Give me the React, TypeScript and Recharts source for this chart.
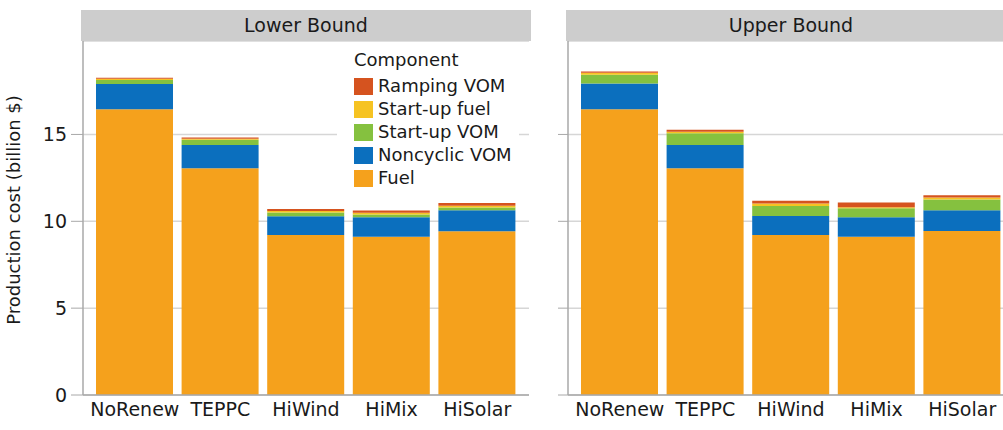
import { BarChart, Bar, XAxis, YAxis, CartesianGrid } from "recharts";

const FONT = '"DejaVu Sans", "Liberation Sans", sans-serif';

// cenários (eixo x)
const scenarios = ["NoRenew", "TEPPC", "HiWind", "HiMix", "HiSolar"];

// Lower Bound, billion $
const fuelLower = [16.45, 13.05, 9.21, 9.11, 9.42];
const noncyclicLower = [1.46, 1.34, 1.08, 1.13, 1.21];
const startupVomLower = [0.22, 0.3, 0.22, 0.15, 0.17];
const startupFuelLower = [0.08, 0.06, 0.08, 0.1, 0.1];
const rampingLower = [0.06, 0.07, 0.12, 0.13, 0.15];

// Upper Bound, billion $
const fuelUpper = [16.45, 13.05, 9.21, 9.11, 9.44];
const noncyclicUpper = [1.48, 1.34, 1.09, 1.12, 1.19];
const startupVomUpper = [0.5, 0.68, 0.58, 0.52, 0.62];
const startupFuelUpper = [0.12, 0.08, 0.15, 0.06, 0.12];
const rampingUpper = [0.08, 0.12, 0.15, 0.27, 0.13];

const yTicks = [0, 5, 10, 15];

// stacking order, bottom to top
const components = [
  { key: "fuel", label: "Fuel", color: "#f5a11c" },
  { key: "noncyclic", label: "Noncyclic VOM", color: "#0b6fbe" },
  { key: "startupVom", label: "Start-up VOM", color: "#85c13f" },
  { key: "startupFuel", label: "Start-up fuel", color: "#f6c322" },
  { key: "ramping", label: "Ramping VOM", color: "#d5531f" },
];

function buildRows(
  fuel: number[],
  noncyclic: number[],
  startupVom: number[],
  startupFuel: number[],
  ramping: number[]
) {
  return scenarios.map((s, i) => ({
    scenario: s,
    fuel: fuel[i],
    noncyclic: noncyclic[i],
    startupVom: startupVom[i],
    startupFuel: startupFuel[i],
    ramping: ramping[i],
  }));
}

const lowerRows = buildRows(fuelLower, noncyclicLower, startupVomLower, startupFuelLower, rampingLower);
const upperRows = buildRows(fuelUpper, noncyclicUpper, startupVomUpper, startupFuelUpper, rampingUpper);

const PLOT_W = 446;
const PLOT_TOP = 41;
const BORDER = "#a8a8a8";

function Panel({
  title,
  rows,
  plotLeft,
  withLabels,
}: {
  title: string;
  rows: any[];
  plotLeft: number;
  withLabels: boolean;
}) {
  const axisW = withLabels ? 83 : 13;
  return (
    <>
      <div
        style={{
          position: "absolute",
          left: plotLeft - 2,
          top: 10,
          width: PLOT_W + 4,
          height: PLOT_TOP - 10,
          background: "#cdcdcd",
          color: "#1a1a1a",
          fontSize: 19,
          lineHeight: `${PLOT_TOP - 10}px`,
          textAlign: "center",
        }}
      >
        {title}
      </div>
      <div style={{ position: "absolute", left: plotLeft - axisW, top: PLOT_TOP }}>
        <BarChart
          width={axisW + PLOT_W + 2}
          height={389}
          data={rows}
          margin={{ top: 0, right: 2, left: 0, bottom: 0 }}
          barSize={77}
        >
          <CartesianGrid vertical={false} stroke="#d6d6d6" strokeWidth={1.5} />
          <XAxis
            dataKey="scenario"
            interval={0}
            padding={{ left: 9, right: 9 }}
            tickLine={false}
            tickSize={0}
            tickMargin={8}
            height={35}
            axisLine={{ stroke: BORDER, strokeWidth: 1.5 }}
            tick={{ fill: "#1a1a1a", fontSize: 19, fontFamily: FONT }}
          />
          <YAxis
            domain={[0, 20.38]}
            ticks={yTicks}
            width={axisW}
            tickSize={withLabels ? 12 : 10}
            tickMargin={4}
            axisLine={{ stroke: BORDER, strokeWidth: 1.5 }}
            tickLine={{ stroke: BORDER }}
            tick={{ fill: "#1a1a1a", fontSize: 19, fontFamily: FONT }}
            tickFormatter={(v) => (withLabels ? String(v) : "")}
            label={
              withLabels
                ? {
                    value: "Production cost (billion $)",
                    angle: -90,
                    position: "insideLeft",
                    offset: 14,
                    dy: -8,
                    style: { textAnchor: "middle", fill: "#1a1a1a", fontSize: 18, fontFamily: FONT },
                  }
                : undefined
            }
          />
          <YAxis
            yAxisId="r"
            orientation="right"
            width={0}
            tick={false}
            tickLine={false}
            axisLine={{ stroke: BORDER, strokeWidth: 1.5 }}
          />
          {components.map((c) => (
            <Bar
              key={c.key}
              dataKey={c.key}
              stackId="a"
              fill={c.color}
              isAnimationActive={false}
            />
          ))}
        </BarChart>
      </div>
    </>
  );
}

function LegendBox() {
  const items = [...components].reverse();
  return (
    <div
      style={{
        position: "absolute",
        left: 337,
        top: 47,
        width: 182,
        height: 148,
        background: "#fff",
        color: "#1a1a1a",
        fontSize: 18,
      }}
    >
      <div style={{ position: "absolute", left: 17, top: 2, lineHeight: "22px" }}>Component</div>
      {items.map((c, i) => (
        <div
          key={c.key}
          style={{ position: "absolute", left: 17, top: 28 + i * 23, height: 22, display: "flex", alignItems: "center" }}
        >
          <div style={{ width: 19, height: 17, background: c.color }} />
          <span style={{ marginLeft: 5, lineHeight: "22px" }}>{c.label}</span>
        </div>
      ))}
    </div>
  );
}

export default function App() {
  return (
    <div
      style={{
        position: "absolute",
        left: 0,
        top: 0,
        width: 1003,
        height: 430,
        overflow: "hidden",
        background: "#fff",
        fontFamily: FONT,
      }}
    >
      <Panel title="Lower Bound" rows={lowerRows} plotLeft={83} withLabels />
      <Panel title="Upper Bound" rows={upperRows} plotLeft={568} withLabels={false} />
      <LegendBox />
    </div>
  );
}
